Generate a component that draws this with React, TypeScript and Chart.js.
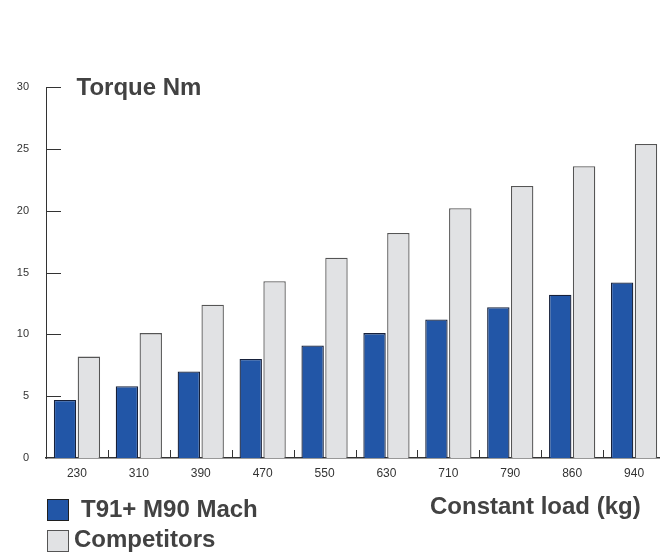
import React, { useEffect, useRef } from "react";
import { Chart, registerables } from "chart.js";

Chart.register(...registerables);

const categories = ["230", "310", "390", "470", "550", "630", "710", "790", "860", "940"];
const machValues = [4.7, 5.8, 7.0, 8.0, 9.1, 10.1, 11.2, 12.2, 13.2, 14.2];
const competitorValues = [8.2, 10.1, 12.4, 14.3, 16.2, 18.2, 20.2, 22.0, 23.6, 25.4];
const yMin = 0;
const yMax = 30;
const yStep = 5;

const FONT = "'Liberation Sans', Arial, Helvetica, sans-serif";
const AXIS_COLOR = "#333333";

const innerTicks = {
  id: "innerTicks",
  afterDraw(chart: any) {
    const { ctx, chartArea } = chart;
    const x = chart.scales.x;
    const y = chart.scales.y;
    ctx.save();
    ctx.strokeStyle = AXIS_COLOR;
    ctx.lineWidth = 1;
    ctx.beginPath();
    for (let v = yMin + yStep; v <= yMax; v += yStep) {
      const py = Math.round(y.getPixelForValue(v)) + 0.5;
      ctx.moveTo(chartArea.left, py);
      ctx.lineTo(chartArea.left + 15, py);
    }
    const n = categories.length;
    const w = (chartArea.right - chartArea.left) / n;
    for (let i = 1; i <= n; i++) {
      const px = Math.round(x.getPixelForValue(i - 1) + w / 2) + 0.5;
      ctx.moveTo(px, chartArea.bottom);
      ctx.lineTo(px, chartArea.bottom - 8);
    }
    ctx.stroke();
    ctx.restore();
  },
};

export default function App() {
  const ref = useRef<HTMLCanvasElement | null>(null);

  useEffect(() => {
    if (!ref.current) return;
    const chart = new Chart(ref.current, {
      type: "bar",
      data: {
        labels: categories,
        datasets: [
          {
            label: "T91+ M90 Mach",
            data: machValues,
            backgroundColor: "#2256A7",
            borderColor: "#16203a",
            borderWidth: 1.3,
            categoryPercentage: 0.77,
            barPercentage: 0.94,
          },
          {
            label: "Competitors",
            data: competitorValues,
            backgroundColor: "#E1E2E4",
            borderColor: "#555555",
            borderWidth: 1.3,
            categoryPercentage: 0.77,
            barPercentage: 0.94,
          },
        ],
      },
      options: {
        animation: false,
        responsive: true,
        maintainAspectRatio: false,
        layout: { padding: { top: 87, right: 7, left: 0, bottom: 0 } },
        plugins: {
          legend: { display: false },
          tooltip: { enabled: false },
        },
        scales: {
          x: {
            grid: { display: false, drawTicks: false },
            border: { display: true, color: AXIS_COLOR, width: 1.5 },
            ticks: {
              color: AXIS_COLOR,
              font: { family: FONT, size: 12 },
              padding: 8,
              maxRotation: 0,
            },
            afterFit(scale: any) {
              scale.height = 95;
            },
          },
          y: {
            min: yMin,
            max: yMax,
            grid: { display: false, drawTicks: false },
            border: { display: true, color: AXIS_COLOR, width: 1 },
            ticks: {
              stepSize: yStep,
              color: AXIS_COLOR,
              font: { family: FONT, size: 11 },
              padding: 17,
            },
            afterFit(scale: any) {
              scale.width = 46;
            },
          },
        },
      },
      plugins: [innerTicks],
    });
    return () => chart.destroy();
  }, []);

  const textStyle: React.CSSProperties = {
    position: "absolute",
    fontFamily: FONT,
    fontWeight: "bold",
    fontSize: 24,
    lineHeight: "24px",
    color: "#424242",
    whiteSpace: "nowrap",
  };

  const box: React.CSSProperties = {
    position: "absolute",
    width: 20,
    height: 20,
    boxSizing: "content-box",
  };

  return (
    <div
      style={{
        position: "fixed",
        left: 0,
        top: 0,
        width: 660,
        height: 553,
        overflow: "hidden",
        background: "#ffffff",
      }}
    >
      <div style={{ position: "absolute", left: 0, top: 0, width: 672, height: 553 }}>
        <canvas ref={ref} />
      </div>
      <div style={{ ...textStyle, left: 76.5, top: 74.7 }}>Torque Nm</div>
      <div style={{ ...textStyle, left: 430, top: 494 }}>Constant load (kg)</div>
      <div style={{ ...box, left: 46.5, top: 499, background: "#2256A7", border: "1.5px solid #1f1f1f" }} />
      <div style={{ ...textStyle, left: 81, top: 497.4 }}>T91+ M90 Mach</div>
      <div style={{ ...box, left: 46.5, top: 529.5, background: "#E1E2E4", border: "1.5px solid #555555" }} />
      <div style={{ ...textStyle, left: 74, top: 527.4 }}>Competitors</div>
    </div>
  );
}
